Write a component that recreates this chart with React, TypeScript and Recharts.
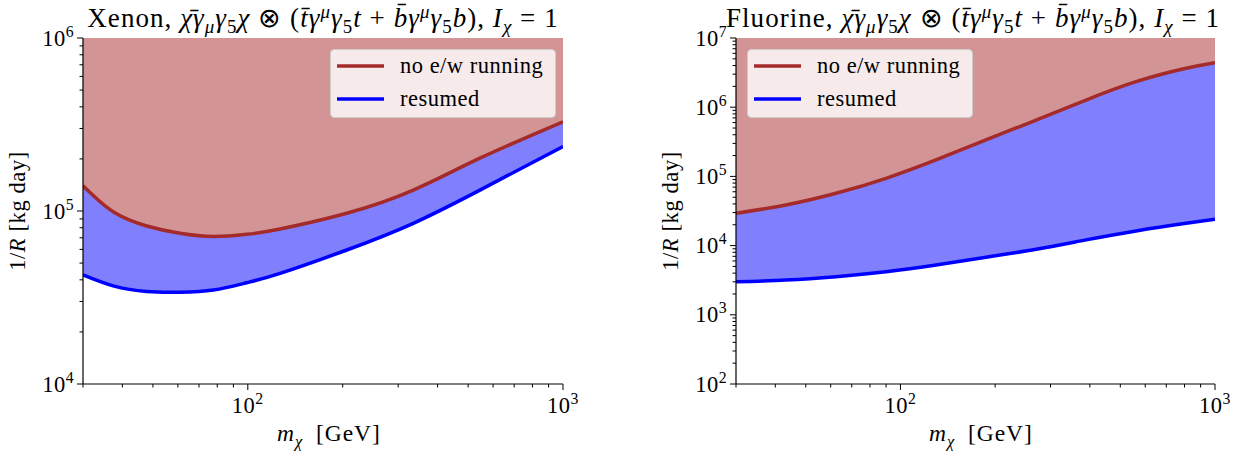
import React from 'react';
import { ComposedChart, Area, Line, XAxis, YAxis, Legend } from 'recharts';

const FONT = '"Liberation Serif", "Times New Roman", serif';

// ---- Xenon panel ----
const xenonMass = [30, 37.4, 47.8, 60.9, 77.8, 99.3, 126.6, 206, 335, 545, 1000];
const xenonNoEW = [1.4e5, 9.9e4, 8.19e4, 7.43e4, 7.12e4, 7.33e4, 7.87e4, 9.7e4, 1.32e5, 2.02e5, 3.28e5];
const xenonResummed = [4.27e4, 3.69e4, 3.42e4, 3.39e4, 3.49e4, 3.85e4, 4.36e4, 5.95e4, 8.49e4, 1.32e5, 2.36e5];

// ---- Fluorine panel ----
const fluorineMass = [30, 43.2, 62.4, 90, 129.7, 187, 270, 389, 561, 809, 1000];
const fluorineNoEW = [2.93e4, 3.86e4, 5.7e4, 9.39e4, 1.73e5, 3.36e5, 6.53e5, 1.27e6, 2.34e6, 3.65e6, 4.4e6];
const fluorineResummed = [3.01e3, 3.18e3, 3.56e3, 4.2e3, 5.25e3, 6.78e3, 8.85e3, 1.21e4, 1.63e4, 2.1e4, 2.4e4];

// ---- axes ----
const xDomain = [30, 1000];
const xTicks = [30, 40, 50, 60, 70, 80, 90, 100, 200, 300, 400, 500, 600, 700, 800, 900, 1000];
const xenonYDomain = [1e4, 1e6];
const fluorineYDomain = [1e2, 1e7];

const decadeTicks = (lo: number, hi: number) => {
  const out: number[] = [];
  for (let e = lo; e < hi; e++) {
    for (let k = 1; k <= 9; k++) out.push(k * Math.pow(10, e));
  }
  out.push(Math.pow(10, hi));
  return out;
};
const xenonYTicks = decadeTicks(4, 6);
const fluorineYTicks = decadeTicks(2, 7);

const seriesNames = { noew: 'no e/w running', res: 'resumed' };
const RED = '#a52a2a';
const BLUE = '#0000ff';
const RED_FILL = '#d29494';
const BLUE_FILL = '#8080ff';
const CURVE = 'natural';

const buildRows = (mass: number[], noew: number[], res: number[], top: number) =>
  mass.map((m, i) => ({
    m,
    noew: noew[i],
    res: res[i],
    upper: [noew[i], top],
    band: [res[i], noew[i]],
  }));

type Seg = { t: string; i?: boolean; sub?: boolean; sup?: boolean };

function MathText(props: {
  x: number; y: number; segs: Seg[]; fontSize: number; anchor?: string;
  transform?: string; spacing?: number; supRise?: number;
}) {
  const { x, y, segs, fontSize, anchor = 'middle', transform, spacing = 0, supRise = 0.4 } = props;
  let cur = 0;
  const kids = segs.map((s, k) => {
    const target = s.sub ? 0.24 * fontSize : s.sup ? -supRise * fontSize : 0;
    const dy = target - cur;
    cur = target;
    return (
      <tspan key={k} dy={dy} fontStyle={s.i ? 'italic' : 'normal'}
        fontSize={s.sub || s.sup ? fontSize * 0.7 : fontSize}>{s.t}</tspan>
    );
  });
  return (
    <text x={x} y={y} textAnchor={anchor as any} fontFamily={FONT} fontSize={fontSize}
      fill="#000" style={{ whiteSpace: 'pre', letterSpacing: spacing }}
      transform={transform}>
      {kids}
    </text>
  );
}

const isMajor = (v: number) => Math.abs(Math.log10(v) - Math.round(Math.log10(v))) < 1e-9;
const TICK_FS = 22.5;
const LABEL_FS = 22.5;

function XTick(props: any) {
  const { x, y, payload } = props;
  const v = payload.value;
  const major = isMajor(v) && v >= 100;
  const len = major ? 6 : 3.5;
  return (
    <g>
      <line x1={x} x2={x} y1={y} y2={y + len} stroke="#000" strokeWidth={1} />
      {major && (
        <MathText x={x} y={y + 29} fontSize={TICK_FS} spacing={0.5}
          segs={[{ t: '10' }, { t: String(Math.round(Math.log10(v))), sup: true }]} />
      )}
    </g>
  );
}

function YTick(props: any) {
  const { x, y, payload } = props;
  const v = payload.value;
  const major = isMajor(v);
  const len = major ? 6 : 3.5;
  return (
    <g>
      <line x1={x} x2={x - len} y1={y} y2={y} stroke="#000" strokeWidth={1} />
      {major && (
        <MathText x={x - len - 3} y={y + 7.5} fontSize={TICK_FS} anchor="end" spacing={0.5}
          segs={[{ t: '10' }, { t: String(Math.round(Math.log10(v))), sup: true }]} />
      )}
    </g>
  );
}

function LegendBox(props: any) {
  const items = [
    { name: seriesNames.noew, color: RED },
    { name: seriesNames.res, color: BLUE },
  ];
  return (
    <svg width={226} height={69} style={{ display: 'block' }}>
      <rect x={0.5} y={0.5} width={225} height={68} rx={4} ry={4}
        fill="rgba(255,255,255,0.8)" stroke="#cccccc" strokeWidth={1} />
      {items.map((it, k) => (
        <g key={k}>
          <line x1={7} x2={54} y1={17 + 33 * k} y2={17 + 33 * k} stroke={it.color} strokeWidth={3.5} />
          <text x={70} y={24 + 33 * k} fontFamily={FONT} fontSize={22.5} fill="#000"
            style={{ letterSpacing: 0.5 }}>{it.name}</text>
        </g>
      ))}
    </svg>
  );
}

function Panel(props: {
  mass: number[]; noew: number[]; res: number[]; yDomain: number[]; yTicks: number[];
  width: number; margin: any; legendPos: { left: number; top: number };
}) {
  const { mass, noew, res, yDomain, yTicks, width, margin, legendPos } = props;
  const rows = buildRows(mass, noew, res, yDomain[1]);
  return (
    <ComposedChart width={width} height={453} data={rows} margin={margin}>
      <XAxis xAxisId="b" dataKey="m" type="number" scale="log" domain={xDomain}
        allowDataOverflow ticks={xTicks} interval={0} tickLine={false} tickSize={0}
        tickMargin={0} tick={<XTick />} height={69}
        axisLine={{ stroke: '#000', strokeWidth: 1.2 }} />
      <XAxis xAxisId="t" orientation="top" dataKey="m" type="number" scale="log"
        domain={xDomain} allowDataOverflow tick={false} tickLine={false} height={0}
        axisLine={{ stroke: '#000', strokeWidth: 1.2 }} />
      <YAxis yAxisId="l" type="number" scale="log" domain={yDomain} allowDataOverflow
        ticks={yTicks} interval={0} tickLine={false} tickSize={0} tickMargin={0}
        tick={<YTick />} width={60} axisLine={{ stroke: '#000', strokeWidth: 1.2 }} />
      <YAxis yAxisId="r" orientation="right" type="number" scale="log" domain={yDomain}
        allowDataOverflow tick={false} tickLine={false} width={0}
        axisLine={{ stroke: '#000', strokeWidth: 1.2 }} />
      <Area xAxisId="b" yAxisId="l" dataKey="upper" type={CURVE} fill={RED_FILL}
        fillOpacity={1} stroke="none" isAnimationActive={false} legendType="none" />
      <Area xAxisId="b" yAxisId="l" dataKey="band" type={CURVE} fill={BLUE_FILL}
        fillOpacity={1} stroke="none" isAnimationActive={false} legendType="none" />
      <Line xAxisId="b" yAxisId="l" dataKey="res" name={seriesNames.res} type={CURVE}
        stroke={BLUE} strokeWidth={3.5} dot={false} isAnimationActive={false} />
      <Line xAxisId="b" yAxisId="l" dataKey="noew" name={seriesNames.noew} type={CURVE}
        stroke={RED} strokeWidth={3.5} dot={false} isAnimationActive={false} />
      <Legend layout="horizontal" verticalAlign="middle" align="center"
        content={<LegendBox />}
        wrapperStyle={{ position: 'absolute', left: legendPos.left, top: legendPos.top, width: 226, height: 69 }} />
    </ComposedChart>
  );
}

const xenonTitle: Seg[] = [
  { t: 'Xenon, ' },
  { t: 'χ\u0304', i: true }, { t: 'γ', i: true }, { t: 'μ', i: true, sub: true },
  { t: 'γ', i: true }, { t: '5', sub: true }, { t: 'χ', i: true }, { t: ' ⊗ (' },
  { t: 't\u0304γ', i: true }, { t: 'μ', i: true, sup: true }, { t: 'γ', i: true },
  { t: '5', sub: true }, { t: 't', i: true }, { t: ' + ' },
  { t: 'b\u0304γ', i: true }, { t: 'μ', i: true, sup: true }, { t: 'γ', i: true }, { t: '5', sub: true },
  { t: 'b', i: true }, { t: '), ' }, { t: 'I', i: true }, { t: 'χ', i: true, sub: true }, { t: ' = 1' },
];
const fluorineTitle: Seg[] = [{ t: 'Fluorine, ' }, ...xenonTitle.slice(1)];
const xLabel: Seg[] = [{ t: 'm', i: true }, { t: 'χ', i: true, sub: true }, { t: ' \u2009[GeV]' }];
const yLabel: Seg[] = [{ t: '1/' }, { t: 'R', i: true }, { t: ' [kg day]' }];

export default function App() {
  return (
    <div style={{ position: 'absolute', left: 0, top: 0, width: 1245, height: 453, background: '#fff' }}>
      <div style={{ position: 'absolute', left: 0, top: 0 }}>
        <Panel mass={xenonMass} noew={xenonNoEW} res={xenonResummed} yDomain={xenonYDomain}
          yTicks={xenonYTicks} width={600} margin={{ top: 38, left: 23, right: 37, bottom: 0 }}
          legendPos={{ left: 330, top: 49 }} />
      </div>
      <div style={{ position: 'absolute', left: 640, top: 0 }}>
        <Panel mass={fluorineMass} noew={fluorineNoEW} res={fluorineResummed} yDomain={fluorineYDomain}
          yTicks={fluorineYTicks} width={605} margin={{ top: 38, left: 36, right: 30, bottom: 0 }}
          legendPos={{ left: 107, top: 49 }} />
      </div>
      <svg width={1245} height={453} style={{ position: 'absolute', left: 0, top: 0, pointerEvents: 'none' }}>
        <MathText x={323} y={26.5} fontSize={27} segs={xenonTitle} spacing={1.05} supRise={0.32} />
        <MathText x={973} y={26.5} fontSize={27} segs={fluorineTitle} spacing={1.05} supRise={0.32} />
        <MathText x={329} y={441} fontSize={23.5} segs={xLabel} spacing={1.0} />
        <MathText x={981} y={441} fontSize={23.5} segs={xLabel} spacing={1.0} />
        <MathText x={0} y={0} fontSize={LABEL_FS} segs={yLabel} spacing={0.6}
          transform="translate(25,211) rotate(-90)" />
        <MathText x={0} y={0} fontSize={LABEL_FS} segs={yLabel} spacing={0.6}
          transform="translate(678,211) rotate(-90)" />
      </svg>
    </div>
  );
}
